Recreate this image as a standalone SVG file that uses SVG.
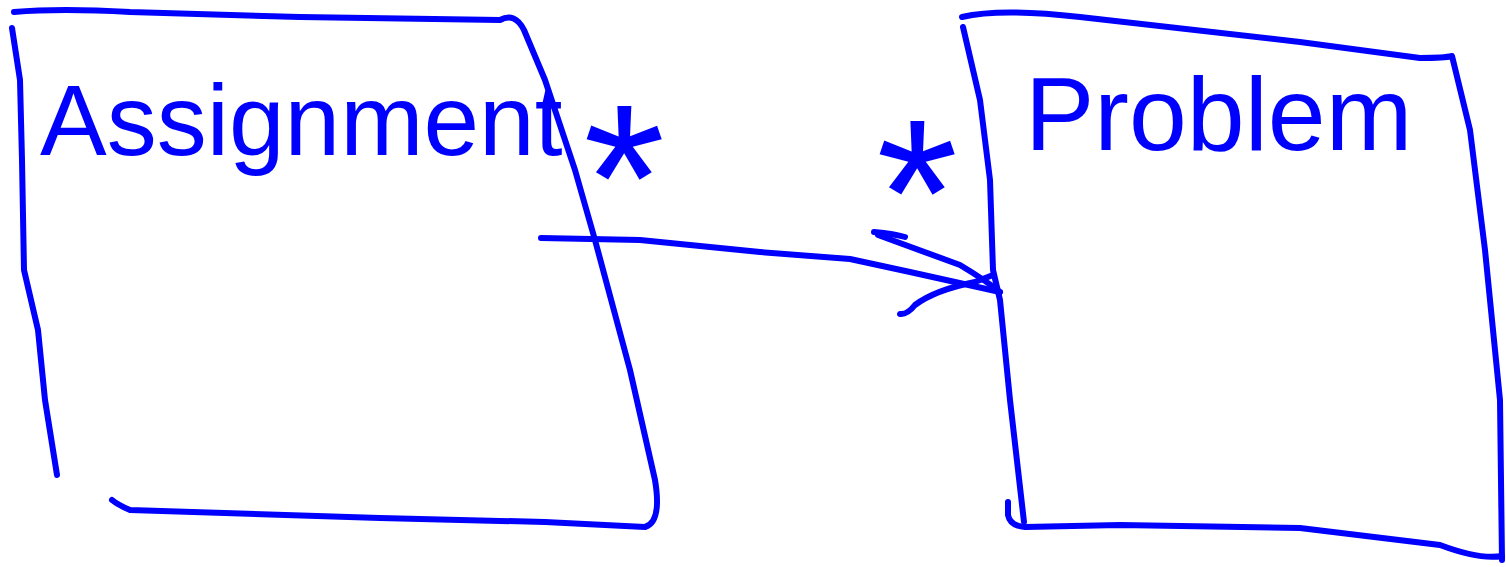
<svg xmlns="http://www.w3.org/2000/svg" width="1506" height="567" viewBox="0 0 1506 567">
<style>
.s{fill:none;stroke:#0000ff;stroke-width:6;stroke-linecap:round;stroke-linejoin:round}
.t{fill:#0000ff;font-family:"Liberation Sans",Arial,sans-serif}
</style>
<rect width="1506" height="567" fill="#ffffff"/>
<g id="assignment">
<path class="s" d="M12,28 L20,80 L22,160 L24,270 L38,330 L45,400 L57,475"/>
<path class="s" d="M14,12 Q60,8 130,12 L300,17 L500,20 Q515,12 524,30 L545,80 L575,170 L595,240 L630,370 L655,480 Q662,522 645,527 L545,522 L380,518 L130,510 Q118,505 112,500"/>
<text class="t" x="40" y="155" font-size="100">Assignment</text>
</g>
<g id="problem">
<path class="s" d="M962,17 Q1000,8 1080,17 L1300,42 L1420,58 Q1445,58 1452,56 L1470,130 L1485,250 L1500,400 L1502,560"/>
<path class="s" d="M963,27 L980,100 L990,180 L993,270 L1000,300 L1010,400 L1024,522"/>
<path class="s" d="M1008,502 L1008,515 Q1010,526 1025,527 L1120,525 L1300,528 L1440,545 Q1480,560 1502,556"/>
<text class="t" x="1025" y="150" font-size="104">Problem</text>
</g>
<g id="connectors">
<path class="s" d="M541,238 L640,240 L760,252 L850,259 L910,272 L1000,292"/>
<path class="s" d="M874,232 Q895,234 905,237"/>
<path class="s" d="M878,235 L960,265 Q985,280 1000,292"/>
<path class="s" d="M900,314 Q907,315 915,305 Q935,290 975,282 L993,275"/>
<text class="t" x="624" y="250" font-size="210" text-anchor="middle">*</text>
<text class="t" x="917" y="265" font-size="210" text-anchor="middle">*</text>
</g>
</svg>
